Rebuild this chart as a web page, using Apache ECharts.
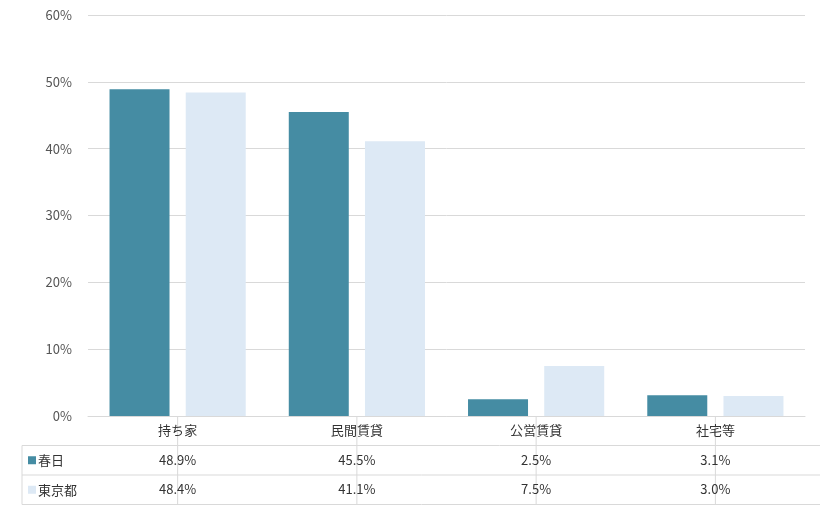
<!DOCTYPE html>
<html><head><meta charset="utf-8">
<script src="https://cdn.jsdelivr.net/npm/echarts@6/dist/echarts.min.js"></script>
<style>html,body{margin:0;padding:0;background:#fff}#c{width:820px;height:510px}</style>
</head><body><div id="c"></div>
<script>
const categories = ['持ち家','民間賃貸','公営賃貸','社宅等'];
const seriesNames = ['春日','東京都'];
const kasuga = [48.9, 45.5, 2.5, 3.1];
const tokyo = [48.4, 41.1, 7.5, 3.0];
const colors = ['#458ca3','#dde9f5'];
const font = 'Meiryo, "Noto Sans CJK JP", sans-serif';
const chart = echarts.init(document.getElementById('c'));
const G = {left:88, right:15, top:15, bottom:94};
function fmtLabel(arr){ return (v, i) => arr[i].toFixed(1) + '%'; }
chart.setOption({
  animation:false,
  textStyle:{fontFamily:font},
  grid:G,
  xAxis:[
    {type:'category', data:categories, axisLine:{lineStyle:{color:'#d9d9d9'}}, axisTick:{show:false},
     axisLabel:{color:'#333', fontSize:13, margin:8}},
    {type:'category', data:categories, position:'bottom', offset:30, axisLine:{show:false}, axisTick:{show:false},
     axisLabel:{color:'#333', fontSize:13, margin:8, formatter:(v)=>kasuga[categories.indexOf(v)].toFixed(1)+'%'}},
    {type:'category', data:categories, position:'bottom', offset:59, axisLine:{show:false}, axisTick:{show:false},
     axisLabel:{color:'#333', fontSize:13, margin:8, formatter:(v)=>tokyo[categories.indexOf(v)].toFixed(1)+'%'}}
  ],
  yAxis:{type:'value', min:0, max:60, interval:10, axisLabel:{formatter:'{value}%', color:'#555', fontSize:13, margin:16},
    splitLine:{lineStyle:{color:'#d9d9d9'}}, axisLine:{show:false}, axisTick:{show:false}},
  series:[
    {name:seriesNames[0], type:'bar', data:kasuga, barWidth:60, barGap:'27%', itemStyle:{color:colors[0]}},
    {name:seriesNames[1], type:'bar', data:tokyo, barWidth:60, itemStyle:{color:colors[1]}}
  ]
});
// table borders
const x0 = chart.convertToPixel({gridIndex:0},[ -0.5, 0])[0];
const y0 = chart.convertToPixel({gridIndex:0},[0,0])[1];
const xs = [0,1,2,3,4].map(i=>chart.convertToPixel({xAxisIndex:0},i-0.5));
const rowH = 29.5;
const ys = [y0, y0+rowH, y0+2*rowH, y0+3*rowH];
const lc = {stroke:'#d9d9d9', lineWidth:1};
const els = [];
const leftX = 22;
els.push({type:'line', shape:{x1:xs[0],y1:ys[1],x2:xs[4],y2:ys[1]}, style:lc});
els.push({type:'line', shape:{x1:leftX,y1:ys[1],x2:xs[0],y2:ys[1]}, style:lc});
els.push({type:'line', shape:{x1:leftX,y1:ys[2],x2:xs[4],y2:ys[2]}, style:lc});
els.push({type:'line', shape:{x1:leftX,y1:ys[3],x2:xs[4],y2:ys[3]}, style:lc});
xs.forEach(x=>els.push({type:'line', shape:{x1:x,y1:ys[0],x2:x,y2:ys[3]}, style:lc}));
els.push({type:'line', shape:{x1:leftX,y1:ys[1],x2:leftX,y2:ys[3]}, style:lc});
seriesNames.forEach((n,i)=>{
  const cy = (ys[i+1]+ys[i+2])/2;
  els.push({type:'rect', shape:{x:leftX+6,y:cy-4,width:8,height:8}, style:{fill:colors[i]}});
  els.push({type:'text', x:leftX+16, y:cy, style:{text:n, fill:'#333', font:'13px '+font, textVerticalAlign:'middle'}});
});
chart.setOption({graphic:els});
</script></body></html>
